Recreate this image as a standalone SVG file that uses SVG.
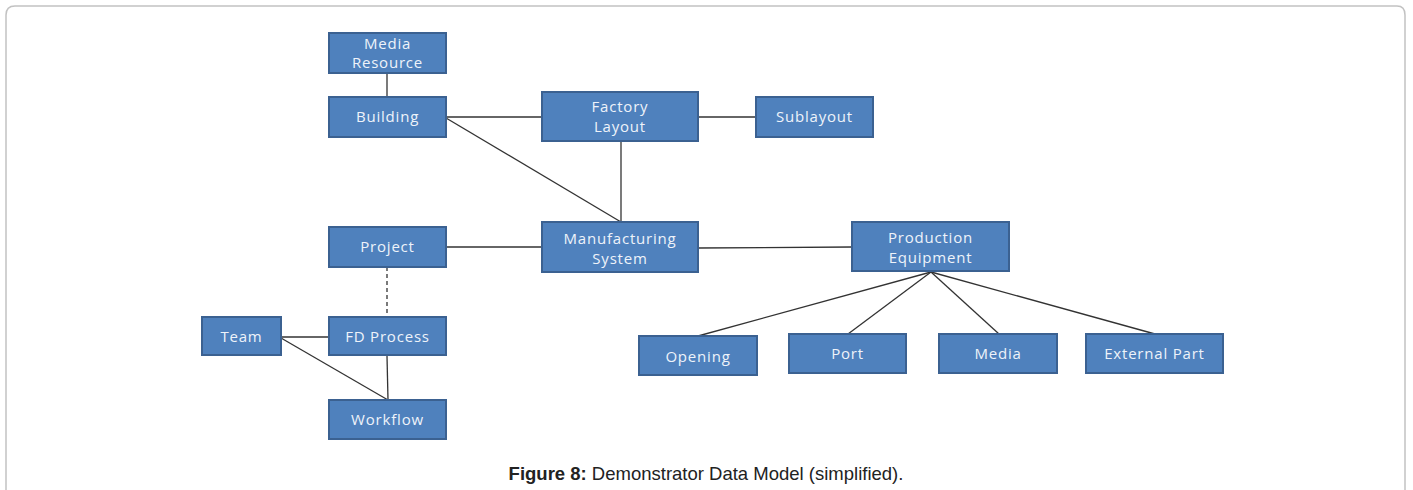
<svg xmlns="http://www.w3.org/2000/svg" width="1413" height="490" viewBox="0 0 1413 490">
<style>
.n rect{fill:#4f81bd;stroke:#3b6191;stroke-width:2}
.n text{font-family:"Open Sans","Noto Sans",sans-serif;font-size:15px;letter-spacing:0.8px;fill:#eef3fa;text-anchor:middle}
.c line{stroke:#333;stroke-width:1.3}
.cap{font-family:"Liberation Sans",Arial,sans-serif;font-size:18.5px;fill:#222;text-anchor:middle}
</style>
<rect width="1413" height="490" fill="#fff"/>
<path d="M6,500 V15 Q6,6 15,6 H1397 Q1405,6 1405,15 V500" fill="none" stroke="#c2c2c2" stroke-width="1.5"/>
<g class="c">
<line x1="387" y1="73" x2="387" y2="96"/>
<line x1="446" y1="117" x2="542" y2="117"/>
<line x1="446" y1="118" x2="621" y2="222"/>
<line x1="621" y1="141" x2="621" y2="222"/>
<line x1="698" y1="117" x2="755" y2="117"/>
<line x1="446" y1="247" x2="542" y2="247"/>
<line x1="698" y1="248" x2="852" y2="247" stroke="#666"/>
<line x1="387" y1="267" x2="387" y2="317" stroke-dasharray="4,3"/>
<line x1="281" y1="337" x2="329" y2="337"/>
<line x1="281" y1="338" x2="388" y2="400" stroke="#555"/>
<line x1="387" y1="356" x2="388" y2="400" stroke="#555"/>
<line x1="931" y1="272" x2="698" y2="336"/>
<line x1="931" y1="272" x2="848" y2="334"/>
<line x1="931" y1="272" x2="999" y2="334"/>
<line x1="931" y1="272" x2="1155" y2="334"/>
</g>
<g id="media-resource" class="n"><rect x="329" y="33" width="117" height="40"/><text x="387.5" y="48.5">Media</text><text x="387.5" y="67.5">Resource</text></g>
<g id="building" class="n"><rect x="329" y="97" width="117" height="40"/><text x="387.5" y="122">Building</text></g>
<g id="factory-layout" class="n"><rect x="542" y="92" width="156" height="49"/><text x="620" y="111.5">Factory</text><text x="620" y="131.5">Layout</text></g>
<g id="sublayout" class="n"><rect x="756" y="97" width="117" height="40"/><text x="814.5" y="122">Sublayout</text></g>
<g id="project" class="n"><rect x="329" y="227" width="117" height="40"/><text x="387.5" y="252">Project</text></g>
<g id="manufacturing-system" class="n"><rect x="542" y="222" width="156" height="50"/><text x="620" y="243.5">Manufacturing</text><text x="620" y="263.5">System</text></g>
<g id="production-equipment" class="n"><rect x="852" y="222" width="157" height="49"/><text x="930.5" y="242.5">Production</text><text x="930.5" y="262.5">Equipment</text></g>
<g id="team" class="n"><rect x="202" y="317" width="79" height="38"/><text x="241.5" y="341.5">Team</text></g>
<g id="fd-process" class="n"><rect x="329" y="317" width="117" height="38"/><text x="387.5" y="341.5">FD Process</text></g>
<g id="workflow" class="n"><rect x="329" y="400" width="117" height="39"/><text x="387.5" y="425">Workflow</text></g>
<g id="opening" class="n"><rect x="639" y="336" width="118" height="39"/><text x="698" y="361.5">Opening</text></g>
<g id="port" class="n"><rect x="789" y="334" width="117" height="39"/><text x="847.5" y="359">Port</text></g>
<g id="media" class="n"><rect x="939" y="334" width="118" height="39"/><text x="998" y="359">Media</text></g>
<g id="external-part" class="n"><rect x="1086" y="334" width="137" height="39"/><text x="1154.5" y="359">External Part</text></g>
<text class="cap" x="706" y="480"><tspan font-weight="bold">Figure 8:</tspan> Demonstrator Data Model (simplified).</text>
</svg>
